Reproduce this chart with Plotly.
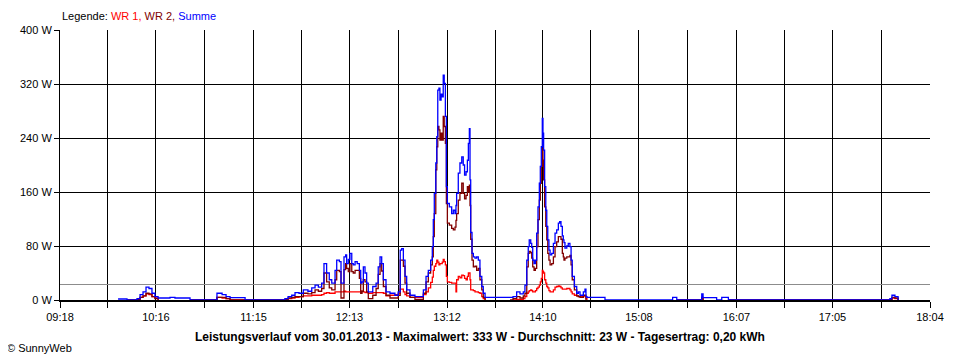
import plotly.graph_objects as go

# ---------------- data ----------------
tick_labels = ["09:18", "10:16", "11:15", "12:13", "13:12", "14:10", "15:08", "16:07", "17:05", "18:04"]
y_ticks = [0, 80, 160, 240, 320, 400]
avg_w = 23  # Durchschnitt

# time in minutes since midnight
t_min = [
    593.1, 598.5,
    604.6, 606.4, 608.2, 610.0, 611.8, 613.6, 615.4, 617.3, 621.5, 624.5, 627.5, 636.6,
    652.9, 656.0, 658.4, 660.8, 669.9,
    694.0, 695.9, 698.1, 700.1, 702.5, 705.1, 707.9, 710.2, 712.2, 714.2,
    716.2, 717.6, 719.2, 720.8, 722.3, 724.3, 725.3, 726.9, 727.9, 729.7,
    730.7, 731.3, 732.3, 733.3, 734.4, 735.3, 736.4, 737.7, 739.0, 739.8,
    740.6, 741.4, 742.4, 743.4, 744.4, 747.1, 749.1, 750.4, 751.5, 752.5,
    753.5, 755.1, 757.5, 760.5, 762.5, 763.7, 764.6, 765.6, 766.6, 767.6,
    769.6, 772.6, 775.7, 777.7, 779.3, 780.7, 782.1, 783.1, 783.7, 784.3,
    785.2, 785.8, 786.4, 787.1, 787.7, 788.4, 789.1, 789.7, 790.3, 791.0,
    791.6, 792.2, 793.4, 794.8, 795.8, 796.8, 797.4, 797.8, 798.8, 799.8,
    800.9, 801.8, 802.6, 803.5, 804.3, 804.9, 805.5, 805.9, 806.3, 807.1,
    807.9, 808.9, 809.9, 810.9, 811.9, 813.0, 813.9, 815.0, 824.0, 830.1,
    831.9, 834.1, 836.1, 838.1, 839.1, 840.2, 841.1, 841.7, 842.6, 843.2,
    843.8, 844.6, 845.4, 846.2, 847.0, 847.8, 848.4, 849.0, 849.6, 850.0,
    850.4, 851.0, 851.7, 852.3, 852.9, 853.6, 854.3, 855.3, 856.3, 857.3,
    858.3, 859.3, 860.1, 860.9, 861.7, 862.3, 862.7, 863.3, 864.4, 865.3,
    866.3, 867.0, 867.7, 869.0, 870.4, 871.4, 872.4, 874.4, 875.4, 876.0,
    876.6, 887.5,
    928.4, 930.9,
    946.0, 946.8, 955.0, 958.1, 962.1,
    1059.8, 1061.0, 1062.8, 1064.7,
]

summe = [
    1.5, 0,
    2, 8, 12, 19, 17, 10, 5, 3, 3, 4, 3, 0,
    10, 8, 5, 3.5, 0,
    2, 5, 7, 11, 10, 15, 13, 18, 22, 19,
    25, 54, 40, 30, 25, 44, 59, 57, 25, 64,
    67, 54, 60, 69, 54, 52, 57, 54, 44, 25,
    27, 49, 40, 25, 12, 20, 25, 49, 64, 54,
    30, 12, 10, 7, 12, 74, 76, 59, 35, 15,
    7, 5, 5, 15, 35, 44, 59, 79, 119, 158,
    203, 242, 311, 314, 296, 305, 301, 333, 321, 272,
    168, 143, 138, 128, 133, 128, 140, 158, 188, 203,
    212, 200, 185, 190, 207, 232, 254, 178, 100, 69,
    64, 62, 64, 59, 35, 20, 10, 4, 4, 4,
    5, 12, 9, 12, 22, 59, 79, 89, 84, 78,
    59, 54, 59, 99, 138, 173, 198, 227, 269, 247,
    222, 168, 133, 109, 89, 74, 67, 69, 84, 99,
    104, 114, 116, 109, 95, 89, 85, 77, 80, 84,
    79, 59, 35, 20, 10, 12, 7, 12, 16, 5,
    4, 0,
    4, 0,
    9, 3.5, 0, 4, 0,
    2, 7, 5, 0,
]

wr2 = [
    0, 0,
    1, 4, 6, 10, 9, 5, 2, 0, 0, 0, 0, 0,
    4, 4, 2, 0, 0,
    1, 3, 4, 5, 5, 10, 9, 11, 15, 13,
    17, 40, 27, 18, 15, 30, 44, 42, 3, 45,
    54, 47, 42, 54, 42, 40, 44, 44, 32, 10,
    13, 30, 27, 12, 2, 7, 17, 38, 54, 43,
    20, 7, 3, 3, 7, 59, 59, 50, 25, 10,
    4, 1, 1, 10, 27, 40, 52, 64, 94, 128,
    193, 227, 257, 252, 237, 247, 237, 272, 257, 232,
    143, 114, 111, 106, 104, 108, 118, 128, 148, 158,
    173, 158, 150, 155, 168, 160, 170, 140, 90, 59,
    49, 50, 44, 47, 30, 15, 4, 0, 0, 0,
    2, 5, 3, 6, 10, 49, 69, 72, 70, 62,
    49, 44, 47, 79, 119, 148, 173, 198, 225, 207,
    178, 138, 109, 89, 69, 59, 52, 54, 64, 79,
    86, 94, 94, 90, 69, 64, 59, 62, 64, 64,
    66, 52, 30, 15, 6, 5, 4, 7, 7, 0,
    0, 0,
    0, 0,
    4, 0, 0, 0, 0,
    1, 4, 3, 0,
]

wr1 = [
    0, 0,
    1, 4, 6, 9, 8, 5, 3, 0, 0, 0, 0, 0,
    4, 3, 2, 0, 0,
    1, 2, 3, 4, 5, 6, 6, 7, 7, 7,
    8, 10, 11, 10, 10, 12, 12, 12, 12, 13,
    12, 12, 12, 12, 12, 12, 12, 12, 12, 13,
    12, 12, 11, 11, 10, 11, 11, 11, 11, 11,
    10, 6, 7, 8, 10, 16, 16, 12, 8, 6,
    4, 4, 4, 8, 12, 18, 26, 34, 44, 50,
    54, 59, 56, 52, 54, 54, 56, 60, 57, 52,
    35, 27, 26, 25, 25, 25, 12, 30, 35, 33,
    37, 36, 32, 30, 35, 40, 40, 30, 15, 15,
    14, 12, 12, 11, 10, 5, 2, 0, 0, 0,
    0, 1, 1, 2, 5, 10, 12, 14, 15, 14,
    12, 12, 14, 17, 19, 22, 27, 32, 44, 42,
    40, 30, 25, 20, 18, 14, 12, 12, 15, 19,
    20, 21, 20, 18, 16, 16, 16, 16, 17, 17,
    15, 12, 9, 7, 6, 5, 5, 6, 5, 2,
    0, 0,
    0, 0,
    3, 0, 0, 0, 0,
    1, 3, 2, 0,
]

# ---------------- helpers ----------------
def to_min(s):
    h, m = s.split(":")
    return int(h) * 60 + int(m)


def hide_idle(vals):
    """Zero readings inside idle stretches are not drawn (they would only lie on the axis)."""
    out = []
    n = len(vals)
    for i, v in enumerate(vals):
        prev_zero = i == 0 or vals[i - 1] == 0
        next_zero = i == n - 1 or vals[i + 1] == 0
        out.append(None if (v == 0 and prev_zero and next_zero) else v)
    return out


tick_vals = [to_min(s) for s in tick_labels]
minor_vals = [(a + b) / 2 for a, b in zip(tick_vals[:-1], tick_vals[1:])]

FONT = "Liberation Sans, Arial, sans-serif"

fig = go.Figure()

fig.add_trace(go.Scatter(
    x=[tick_vals[0], tick_vals[-1]], y=[avg_w, avg_w], mode="lines",
    line=dict(color="#8c8c8c", width=1.2), showlegend=False, hoverinfo="skip"))

for name, vals, col in [("WR 1", wr1, "#ff0000"), ("WR 2", wr2, "#800000"), ("Summe", summe, "#0000ff")]:
    fig.add_trace(go.Scatter(
        x=t_min, y=hide_idle(vals), mode="lines", name=name,
        line=dict(color=col, width=1.3, shape="hv"), connectgaps=False, showlegend=False))

# page body has an 8px margin: figure placed so the plot area sits at x 60-930, y 30-300
fig.update_layout(
    width=952, height=352,
    margin=dict(l=52, r=30, t=22, b=60),
    paper_bgcolor="white", plot_bgcolor="white",
    font=dict(family=FONT, size=11, color="black"),
    xaxis=dict(
        range=[tick_vals[0], tick_vals[-1]],
        tickmode="array", tickvals=tick_vals, ticktext=tick_labels,
        showgrid=True, gridcolor="black", gridwidth=1,
        ticks="outside", ticklen=6, tickcolor="black", tickwidth=1,
        showline=True, linecolor="black", linewidth=1.5,
        zeroline=False,
        minor=dict(tickmode="array", tickvals=minor_vals, ticks="outside", ticklen=6,
                   tickcolor="black", showgrid=True, gridcolor="black", gridwidth=1),
        tickfont=dict(size=11),
    ),
    yaxis=dict(
        range=[0, 400],
        tickmode="array", tickvals=y_ticks, ticktext=[f"{v} W" for v in y_ticks],
        showgrid=True, gridcolor="black", gridwidth=1,
        ticks="outside", ticklen=5, tickcolor="black",
        showline=True, linecolor="black", linewidth=1,
        zeroline=False,
        tickfont=dict(size=11),
    ),
)

fig.add_annotation(
    xref="paper", yref="paper", x=0, y=1.052, xanchor="left", yanchor="middle",
    showarrow=False,
    text=("Legende: <span style='color:#ff0000'>WR 1,</span> "
          "<span style='color:#800000'>WR 2,</span> "
          "<span style='color:#0000ff'>Summe</span>"),
    font=dict(size=11),
)
fig.add_annotation(
    xref="paper", yref="paper", x=0.483, y=-0.137, xanchor="center", yanchor="middle",
    showarrow=False,
    text="<b>Leistungsverlauf vom 30.01.2013 - Maximalwert: 333 W - Durchschnitt: 23 W - Tagesertrag: 0,20 kWh</b>",
    font=dict(size=12),
)
fig.add_annotation(
    xref="paper", yref="paper", x=-0.0632, y=-0.178, xanchor="left", yanchor="middle",
    showarrow=False, text="© SunnyWeb", font=dict(size=11),
)

fig.write_html("out.html")
